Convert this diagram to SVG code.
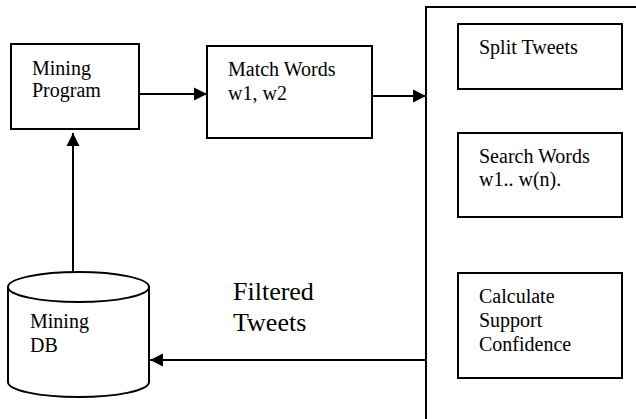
<svg xmlns="http://www.w3.org/2000/svg" width="636" height="419" viewBox="0 0 636 419">
<style>
.box{fill:#fff;stroke:#000;stroke-width:2}
.t{font-family:"Liberation Serif","Times New Roman",serif;font-size:20px;fill:#000}
.lbl{font-family:"Liberation Serif","Times New Roman",serif;font-size:26px;fill:#000}
.c{stroke:#000;stroke-width:2;fill:none}
</style>
<defs>
<marker id="ah" markerUnits="userSpaceOnUse" markerWidth="14" markerHeight="14" viewBox="0 0 14 14" refX="13" refY="7" orient="auto">
<path d="M0,0.5 L13,7 L0,13.5 Z" fill="#000"/>
</marker>
</defs>
<rect width="636" height="419" fill="#fff"/>
<g id="process-box">
<path class="box" d="M426,420 L426,7 L640,7" fill="none"/>
</g>
<g id="mining-program">
<rect class="box" x="11" y="44" width="128" height="85"/>
<text class="t" x="32" y="75">Mining</text>
<text class="t" x="32" y="97">Program</text>
</g>
<g id="match-words">
<rect class="box" x="207" y="46" width="165" height="92"/>
<text class="t" x="228" y="76">Match Words</text>
<text class="t" x="228" y="100">w1, w2</text>
</g>
<g id="split-tweets">
<rect class="box" x="458" y="24" width="164" height="65"/>
<text class="t" x="479" y="54">Split Tweets</text>
</g>
<g id="search-words">
<rect class="box" x="458" y="133" width="164" height="84"/>
<text class="t" x="479" y="163">Search Words</text>
<text class="t" x="479" y="186">w1.. w(n).</text>
</g>
<g id="calculate">
<rect class="box" x="458" y="273" width="164" height="105"/>
<text class="t" x="479" y="303">Calculate</text>
<text class="t" x="479" y="327">Support</text>
<text class="t" x="479" y="351">Confidence</text>
</g>
<g id="mining-db">
<path class="box" d="M8,287 A70.5,15 0 0,1 149,287 L149,382 A70.5,15 0 0,1 8,382 Z"/>
<path class="c" d="M8,287 A70.5,15 0 0,0 149,287"/>
<text class="t" x="30" y="328">Mining</text>
<text class="t" x="30" y="352">DB</text>
</g>
<g id="connectors">
<line class="c" x1="139" y1="94" x2="207" y2="94" marker-end="url(#ah)"/>
<line class="c" x1="372" y1="96" x2="426" y2="96" marker-end="url(#ah)"/>
<line class="c" x1="73" y1="272" x2="73" y2="133" marker-end="url(#ah)"/>
<line class="c" x1="426" y1="360" x2="150" y2="360" marker-end="url(#ah)"/>
<text class="lbl" x="233" y="300">Filtered</text>
<text class="lbl" x="233" y="331">Tweets</text>
</g>
</svg>
